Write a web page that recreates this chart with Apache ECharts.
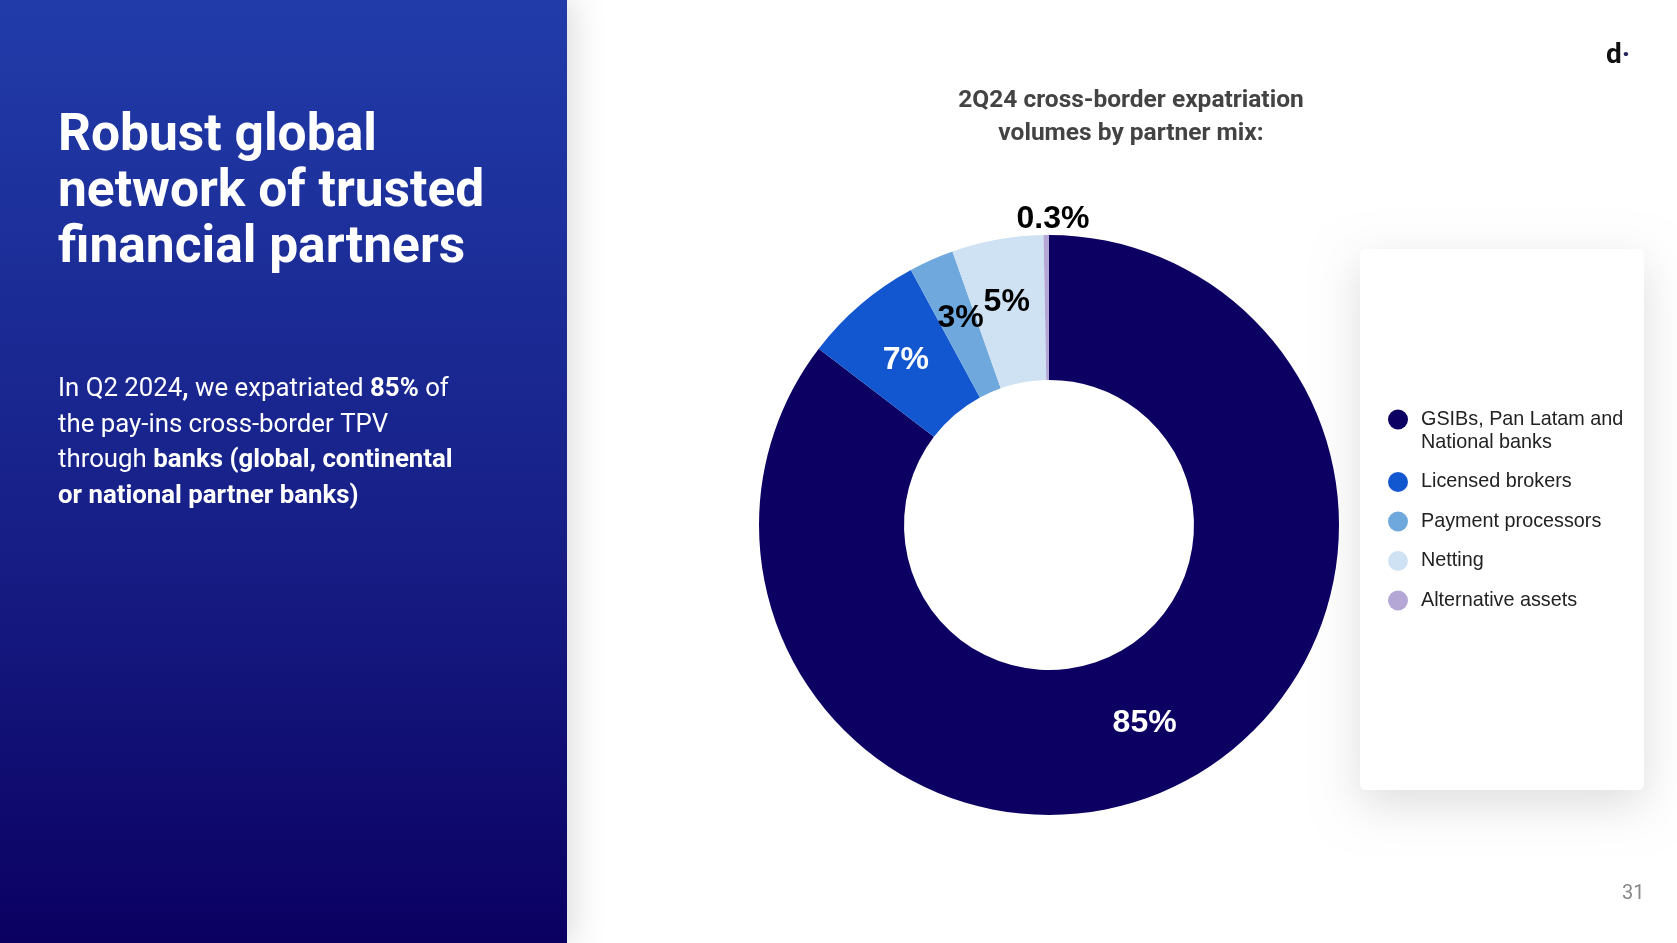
<!DOCTYPE html>
<html>
<head>
<meta charset="utf-8">
<title>Cross-border expatriation volumes by partner mix</title>
<script src="https://cdn.jsdelivr.net/npm/echarts@6/dist/echarts.min.js"></script>
<style>
html, body { margin: 0; padding: 0; background: #fff; }
#chart { width: 1677px; height: 943px; }
</style>
</head>
<body>
<div id="chart"></div>
<script>
var categories = ["GSIBs, Pan Latam and National banks", "Licensed brokers", "Payment processors", "Netting", "Alternative assets"];
var shares = [85.4, 6.7, 2.5, 5.1, 0.3];
var shareLabels = ["85%", "7%", "3%", "5%", "0.3%"];

var colors = ["#0c0062", "#1257cf", "#6fa8dc", "#cfe2f3", "#b4a7d6"];
var labelColors = ["#fff", "#fff", "#000", "#000", "#000"];
var labelNudges = [[-2, 0], [0, 3], [1, -5], [-3, -6], [6, -85]];

var pieData = categories.map(function (name, i) {
    return {
        name: name,
        value: shares[i],
        itemStyle: { color: colors[i] },
        label: { formatter: shareLabels[i], color: labelColors[i] }
    };
});

var option = {
    animation: false,
    title: {
        text: "2Q24 cross-border expatriation\nvolumes by partner mix:",
        left: 1126,
        top: 79,
        textAlign: "center",
        textStyle: { fontFamily: "Roboto", fontSize: 24.5, fontWeight: 700, color: "#434343", lineHeight: 33 }
    },
    legend: {
        orient: "vertical",
        left: 1383,
        top: 380,
        icon: "circle",
        itemWidth: 20,
        itemHeight: 20,
        itemGap: 16.5,
        data: categories,
        // blank first line keeps the dot level with the first text line
        formatter: function (name) {
            return name === categories[0] ? " \nGSIBs, Pan Latam and\nNational banks" : name;
        },
        textStyle: { fontFamily: "Liberation Sans", fontSize: 19.8, color: "#222", lineHeight: 23, padding: [0, 0, 0, 8] }
    },
    graphic: [
        {
            type: "rect", z: 0, silent: true,
            shape: { x: 0, y: 0, width: 567, height: 943 },
            style: {
                fill: new echarts.graphic.LinearGradient(0, 0, 0, 1, [
                    { offset: 0, color: "#213ca9" },
                    { offset: 0.56, color: "#171f87" },
                    { offset: 1, color: "#0b0062" }
                ]),
                shadowBlur: 30, shadowColor: "rgba(0,0,0,0.14)", shadowOffsetX: 6
            }
        },
        {
            type: "rect", z: 0, silent: true,
            shape: { x: 1360, y: 249, width: 284, height: 541, r: 6 },
            style: { fill: "#fff", shadowBlur: 45, shadowColor: "rgba(0,0,0,0.13)", shadowOffsetY: 14 }
        },
        {
            type: "text", z: 1, left: 58, top: 109, silent: true,
            style: {
                text: "Robust global\nnetwork of trusted\nfinancial partners",
                fill: "#fff", fontFamily: "Roboto", fontSize: 51.5, fontWeight: 700, lineHeight: 56
            }
        },
        {
            type: "text", z: 1, left: 58, top: 376.5, silent: true,
            style: {
                text: "{r|In Q2 2024}{b|,}{r| we expatriated }{b|85%}{r| of}\n{r|the pay-ins cross-border TPV}\n{r|through }{b|banks (global, continental}\n{b|or national partner banks)}",
                rich: {
                    r: { fill: "#fff", fontFamily: "Roboto", fontSize: 25.8, fontWeight: 400, lineHeight: 35.6 },
                    b: { fill: "#fff", fontFamily: "Roboto", fontSize: 25.8, fontWeight: 700, lineHeight: 35.6 }
                }
            }
        },
        {
            type: "text", z: 1, left: 1606, top: 42, silent: true,
            style: {
                text: "{d|d}{p|·}",
                rich: {
                    d: { fill: "#111", fontFamily: "Roboto", fontSize: 28, fontWeight: 700 },
                    p: { fill: "#26265c", fontFamily: "Roboto", fontSize: 28, fontWeight: 700 }
                }
            }
        },
        {
            type: "text", z: 1, left: 1622, top: 884, silent: true,
            style: { text: "31", fill: "#888", fontFamily: "Roboto", fontSize: 20 }
        }
    ],
    series: [{
        type: "pie",
        silent: true,
        center: [1049, 525],
        radius: [145, 290],
        startAngle: 90,
        clockwise: true,
        avoidLabelOverlap: false,
        label: {
            show: true,
            position: "inside",
            fontFamily: "Liberation Sans",
            fontSize: 32,
            fontWeight: 700
        },
        labelLine: { show: false },
        labelLayout: function (params) {
            var nudge = labelNudges[params.dataIndex];
            return { dx: nudge[0], dy: nudge[1] };
        },
        data: pieData
    }]
};

echarts.init(document.getElementById("chart")).setOption(option);
</script>
</body>
</html>
